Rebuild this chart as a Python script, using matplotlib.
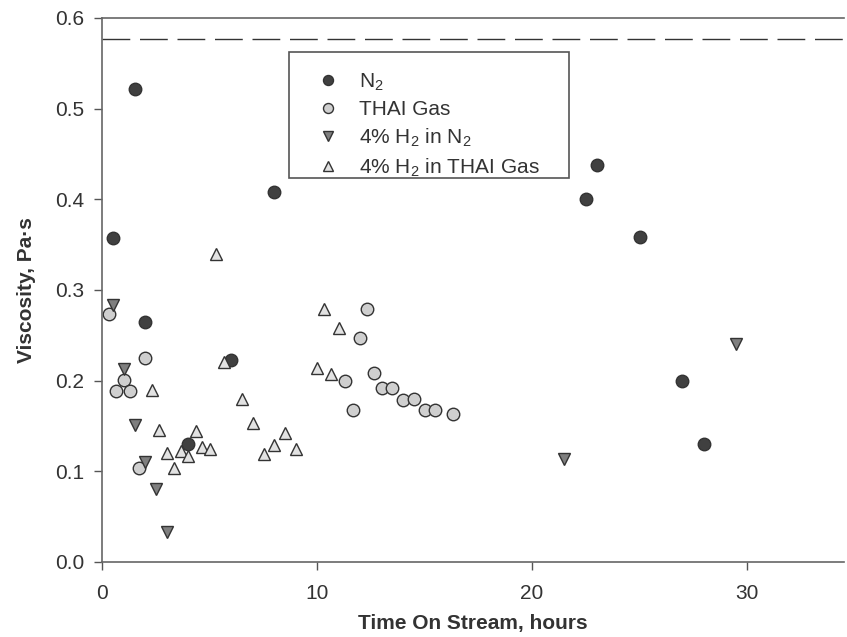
import matplotlib.pyplot as plt
from matplotlib.patches import Rectangle

plt.rcParams['font.family'] = ['Liberation Sans', 'DejaVu Sans']
plt.rcParams['mathtext.fontset'] = 'custom'
plt.rcParams['mathtext.rm'] = 'Liberation Sans'

# time on stream (hours) and viscosity (Pa.s)
n2_t = [0.5, 1.5, 2.0, 4.0, 6.0, 8.0, 22.5, 23.0, 25.0, 27.0, 28.0]
n2_v = [0.357, 0.521, 0.264, 0.130, 0.223, 0.408, 0.400, 0.438, 0.358, 0.199, 0.130]

thai_t = [0.3, 0.65, 1.0, 1.3, 1.7, 2.0,
          11.3, 11.65, 12.0, 12.33, 12.65, 13.0, 13.5, 14.0, 14.5, 15.0, 15.5, 16.3]
thai_v = [0.273, 0.188, 0.201, 0.188, 0.103, 0.225,
          0.200, 0.168, 0.247, 0.279, 0.208, 0.192, 0.192, 0.179, 0.180, 0.168, 0.168, 0.163]

h2n2_t = [0.5, 1.0, 1.5, 2.0, 2.5, 3.0, 21.5, 29.5]
h2n2_v = [0.283, 0.213, 0.151, 0.110, 0.080, 0.033, 0.113, 0.240]

h2thai_t = [2.3, 2.65, 3.0, 3.33, 3.65, 4.0, 4.33, 4.65, 5.0, 5.3, 5.66,
            6.5, 7.0, 7.5, 8.0, 8.5, 9.0, 10.0, 10.33, 10.65, 11.0]
h2thai_v = [0.190, 0.145, 0.120, 0.103, 0.122, 0.117, 0.144, 0.127, 0.125, 0.339, 0.220,
            0.180, 0.153, 0.119, 0.129, 0.142, 0.124, 0.214, 0.279, 0.207, 0.258]

ref_level = 0.577

fig = plt.figure(figsize=(8.47, 6.37), dpi=100)
ax = fig.add_axes([0.121, 0.118, 0.875, 0.854])

edge = '#333333'
ms = 9
ax.plot(n2_t, n2_v, 'o', ms=ms, mfc='#404040', mec=edge, mew=1, label='N$_2$')
ax.plot(thai_t, thai_v, 'o', ms=ms, mfc='#cfcfcf', mec=edge, mew=1, label='THAI Gas')
ax.plot(h2n2_t, h2n2_v, 'v', ms=ms, mfc='#7f7f7f', mec=edge, mew=1, label='4% H$_2$ in N$_2$')
ax.plot(h2thai_t, h2thai_v, '^', ms=ms, mfc='#e2e2e2', mec=edge, mew=1,
        label='4% H$_2$ in THAI Gas')
ax.axhline(ref_level, color='#333333', lw=1.0, ls=(0, (20, 7)))

ax.set_xlim(0, 34.5)
ax.set_ylim(0, 0.6)
ax.set_xticks([0, 10, 20, 30])
ax.set_yticks([0.0, 0.1, 0.2, 0.3, 0.4, 0.5, 0.6])
ax.set_yticklabels(['0.0', '0.1', '0.2', '0.3', '0.4', '0.5', '0.6'])
ax.tick_params(direction='out', length=6, width=1, color='#555555',
               labelsize=15, labelcolor='#333333')
ax.tick_params(axis='x', pad=10)
ax.tick_params(axis='y', pad=7)
for s in ['left', 'bottom', 'top']:
    ax.spines[s].set_color('#666666')
    ax.spines[s].set_linewidth(1.2)
ax.spines['right'].set_visible(False)

ax.set_xlabel('Time On Stream, hours', fontsize=15, fontweight='bold', color='#333333',
              labelpad=8)
ax.set_ylabel('Viscosity, Pa·s', fontsize=15, fontweight='bold', color='#333333',
              labelpad=14)

leg = ax.legend(loc='upper left', bbox_to_anchor=(0.3416, 0.916),
                bbox_transform=fig.transFigure, fontsize=15,
                frameon=False, markerscale=0.8, handletextpad=0.45,
                borderpad=0.87, labelspacing=0.34, labelcolor='#333333',
                borderaxespad=0)

# legend box, taller padding on top than bottom as in the original
W, H = 847, 637
fig.patches.append(Rectangle((289.3 / W, 1 - 177.7 / H), 280 / W, 125.4 / H,
                             transform=fig.transFigure, fill=False,
                             edgecolor='#555555', lw=1.2, zorder=5))

fig.savefig('out.png', dpi=100)
